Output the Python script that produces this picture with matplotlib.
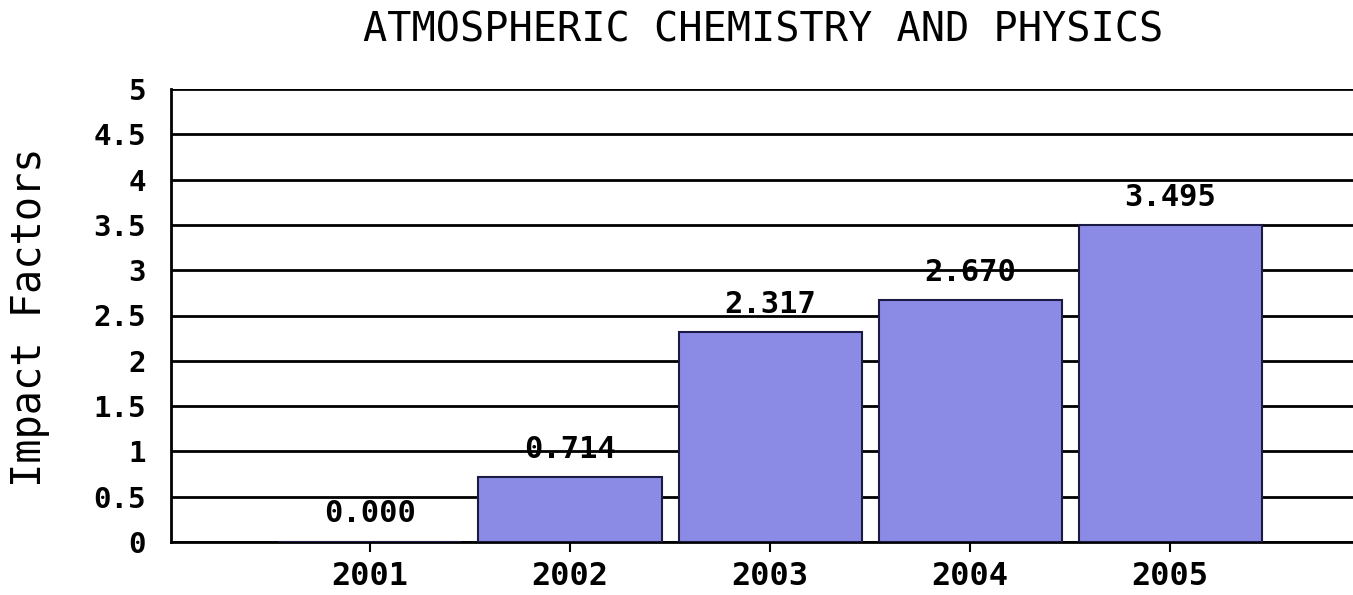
import matplotlib
matplotlib.use("Agg")
import matplotlib.pyplot as plt

years = ["2001", "2002", "2003", "2004", "2005"]
impact = [0.000, 0.714, 2.317, 2.670, 3.495]
yticks = [0, 0.5, 1, 1.5, 2, 2.5, 3, 3.5, 4, 4.5, 5]
ytick_labels = ["0", "0.5", "1", "1.5", "2", "2.5", "3", "3.5", "4", "4.5", "5"]
title = "ATMOSPHERIC CHEMISTRY AND PHYSICS"
ylabel = "Impact Factors"

W, H = 1353, 595
fig = plt.figure(figsize=(W / 100, H / 100), dpi=100)
ax = fig.add_axes([171 / W, 1 - 542 / H, 1 - 171 / W, (542 - 89) / H])

mono = "DejaVu Sans Mono"
x = list(range(len(years)))
ax.set_axisbelow(True)
ax.yaxis.grid(True, color="black", linewidth=2)
ax.bar(x, impact, width=0.915, color="#8b8be6", edgecolor="#1a1a44", linewidth=1.5, zorder=3)

for xi, v in zip(x, impact):
    ax.annotate(f"{v:.3f}", (xi, v), xytext=(0, 28), textcoords="offset pixels",
                ha="center", va="center", fontsize=22, fontweight="bold",
                family=mono, zorder=5)

ax.set_xlim(-0.995, 4.915)
ax.set_ylim(0, 5)
ax.set_xticks(x)
ax.set_xticklabels(years, fontsize=23, fontweight="bold", family=mono)
ax.set_yticks(yticks)
ax.set_yticklabels(ytick_labels, fontsize=21, fontweight="bold", family=mono)
ax.tick_params(axis="x", length=7, width=1.5, pad=7)
ax.tick_params(axis="y", length=0, pad=18)

for s in ["top", "right"]:
    ax.spines[s].set_visible(False)
ax.spines["left"].set_linewidth(2)
ax.spines["bottom"].set_linewidth(2)

fig.text(763 / W, 1 - 31 / H, title, ha="center", va="center", fontsize=29, family=mono)
fig.text(30 / W, 1 - 317 / H, ylabel, ha="center", va="center", rotation=90,
         fontsize=29, family=mono)

fig.savefig("out.png", dpi=100, facecolor="white")
